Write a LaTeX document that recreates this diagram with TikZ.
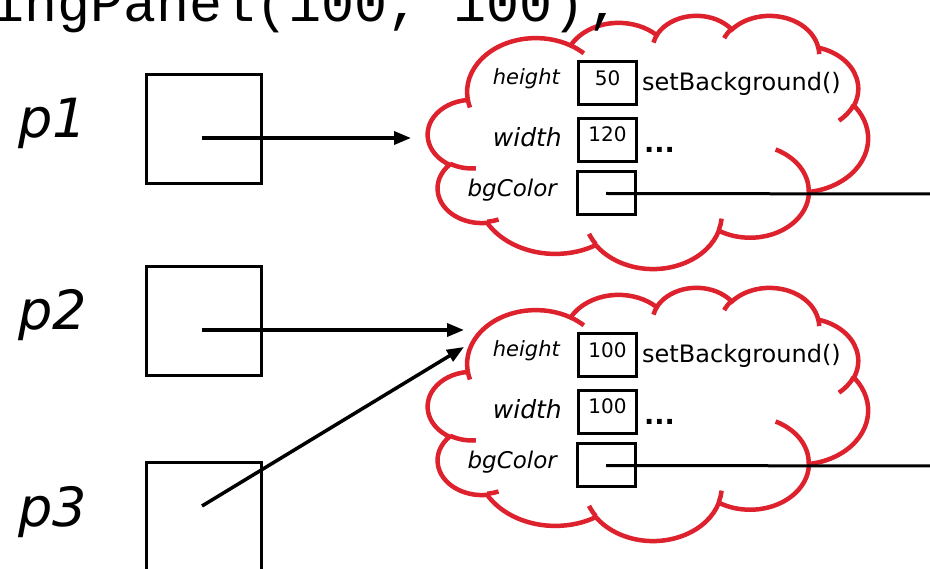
\documentclass[tikz,border=0pt]{standalone}
\usepackage{fontspec}
\setmainfont{DejaVu Sans}
\setmonofont{Liberation Mono}
\usetikzlibrary{arrows.meta}
\definecolor{cloudred}{RGB}{221,33,45}

% OOXML arcTo (visual angles) -> TikZ parametric arc style
\newcommand\defcloudarc[5]{%
  \pgfmathsetmacro\cldS{atan2((#2)*sin(#4),(#3)*cos(#4))}%
  \pgfmathsetmacro\cldE{atan2((#2)*sin((#4)+(#5)),(#3)*cos((#4)+(#5)))}%
  \pgfmathsetmacro\cldD{\cldE-\cldS}%
  \pgfmathsetmacro\cldD{\cldD-360*round((\cldD-(#5))/360)}%
  \pgfmathsetmacro\cldE{\cldS+\cldD}%
  \edef\cldtmp{\noexpand\tikzset{#1/.style={start angle=\cldS,end angle=\cldE,x radius=#2,y radius=#3}}}%
  \cldtmp}
\defcloudarc{cldA}{67.53}{91.90}{-190.4875}{123.7805}
\defcloudarc{cldB}{53.33}{72.67}{-144.1024}{89.9452}
\defcloudarc{cldC}{43.65}{59.45}{-145.8079}{99.7230}
\defcloudarc{cldD}{48.57}{65.95}{-130.9861}{117.2417}
\defcloudarc{cldE}{53.33}{72.73}{-78.7089}{109.0269}
\defcloudarc{cldF}{67.75}{92.20}{-46.2673}{130.2690}
\defcloudarc{cldG}{57.85}{78.67}{0.6250}{114.0333}
\defcloudarc{cldH}{67.52}{92.15}{22.4516}{115.1726}
\defcloudarc{cldI}{77.20}{105.43}{66.2426}{75.7110}
\defcloudarc{cldJ}{43.60}{59.18}{-274.9421}{146.7356}
\defcloudarc{cldK}{43.45}{59.45}{-246.8285}{152.5189}
\defcloudarc{hntA}{43.45}{59.45}{86.7420}{26.4295}
\defcloudarc{hntB}{43.60}{59.18}{73.6105}{11.4475}
\defcloudarc{hntC}{67.52}{92.15}{137.6242}{14.0811}
\defcloudarc{hntD}{67.52}{92.15}{6.4533}{15.9984}
\defcloudarc{hntE}{57.85}{78.67}{-70.2924}{70.9174}
\defcloudarc{hntF}{53.33}{72.73}{30.3180}{27.7515}
\defcloudarc{hntG}{48.57}{65.95}{-13.7443}{14.8589}
\defcloudarc{hntH}{48.57}{65.95}{-149.1815}{18.1954}
\defcloudarc{hntI}{43.65}{59.45}{-163.4943}{17.6864}
\defcloudarc{hntJ}{67.53}{91.90}{-66.7070}{12.3194}
\defcloudarc{hntK}{67.53}{91.90}{157.6544}{11.8582}

\tikzset{
  cloudline/.style={draw=cloudred, line width=4.5pt},
  ptrbox/.style={draw, line width=3pt, minimum width=115.5pt, minimum height=109pt, inner sep=0pt},
  valbox/.style={draw, line width=3pt, minimum width=58pt, minimum height=43pt, inner sep=0pt},
  fieldlbl/.style={anchor=base east, inner sep=0pt},
  valtxt/.style={anchor=base, inner sep=0pt, font=\fontsize{20}{24}\selectfont},
  plabel/.style={anchor=base west, inner sep=0pt, font=\itshape\fontsize{54}{60}\selectfont},
  ptr/.style={line width=3.5pt, -{Triangle[length=17pt,width=13pt]}},
  refline/.style={line width=3pt}
}

\newcommand\objectcloud[4]{%
  \begin{scope}[shift={(428,15+#2)}, x=1.0185pt, y=-0.5860pt]
    \draw[cloudline, fill=white] (39.00,143.70) arc[cldA] arc[cldB] arc[cldC] arc[cldD]
      arc[cldE] arc[cldF] arc[cldG] arc[cldH] arc[cldI] arc[cldJ] arc[cldK] -- cycle;
    \draw[cloudline] (46.93,261.77) arc[hntA] (69.28,348.99) arc[hntB]
      (164.78,390.90) arc[hntC] (288.27,347.51) arc[hntD] (341.29,229.54) arc[hntE]
      (417.98,153.54) arc[hntF] (383.24,54.26) arc[hntG] (290.78,39.52) arc[hntH]
      (221.41,47.20) arc[hntI] (140.00,51.92) arc[hntJ] (41.27,157.89) arc[hntK];
  \end{scope}
  \node[fieldlbl, font=\itshape\fontsize{21}{25}\selectfont] (hl#1) at (560,85+#2) {height};
  \node[fieldlbl, font=\itshape\fontsize{25}{30}\selectfont] (wl#1) at (562,147+#2) {width};
  \node[fieldlbl, font=\itshape\fontsize{23}{28}\selectfont] (bl#1) at (557,197+#2) {bgColor};
  \node[valbox] (hb#1) at (607.5,83.5+#2) {};
  \node[valbox] (wb#1) at (607.5,140+#2) {};
  \node[valbox] (bb#1) at (606,193.5+#2) {};
  \node[valtxt] (hv#1) at (607.5,86+#2) {#3};
  \node[valtxt] (wv#1) at (607.5,142+#2) {#4};
  \node[anchor=base west, inner sep=0pt, font=\fontsize{24}{29}\selectfont] (sb#1) at (642,91+#2) {setBackground()};
  \node[anchor=base west, inner sep=0pt, font=\bfseries\fontsize{27}{32}\selectfont] (dd#1) at (644,153+#2) {...};
  \coordinate (be#1) at (930,194+#2);
  \draw[refline] (bb#1.center) -- (be#1);
}

\begin{document}
\begin{tikzpicture}[x=1pt, y=-1pt]
\useasboundingbox (0,0) rectangle (930,569);
\fill[white] (0,0) rectangle (930,569);

\objectcloud{1}{0}{50}{120}
\objectcloud{2}{272}{100}{100}

\node[plabel] (p1) at (18,138) {p1};
\node[plabel] (p2) at (18,330) {p2};
\node[plabel] (p3) at (18,526) {p3};

\node[ptrbox] (b1) at (204,129) {};
\node[ptrbox] (b2) at (204,321) {};
\node[ptrbox] (b3) at (204,517) {};

\coordinate (s1) at (202,138);
\coordinate (s2) at (202,330);
\coordinate (s3) at (202,506);
\coordinate (t1) at (411,138);
\coordinate (t2) at (464,330);
\coordinate (t3) at (464,347);
\draw[ptr] (s1) -- (t1);
\draw[ptr] (s2) -- (t2);
\draw[ptr] (s3) -- (t3);

\node[anchor=base west, inner sep=0pt, font=\ttfamily\fontsize{55}{60}\selectfont] (code) at (-8.5,22) {ingPanel(100, 100);};
\end{tikzpicture}
\end{document}
